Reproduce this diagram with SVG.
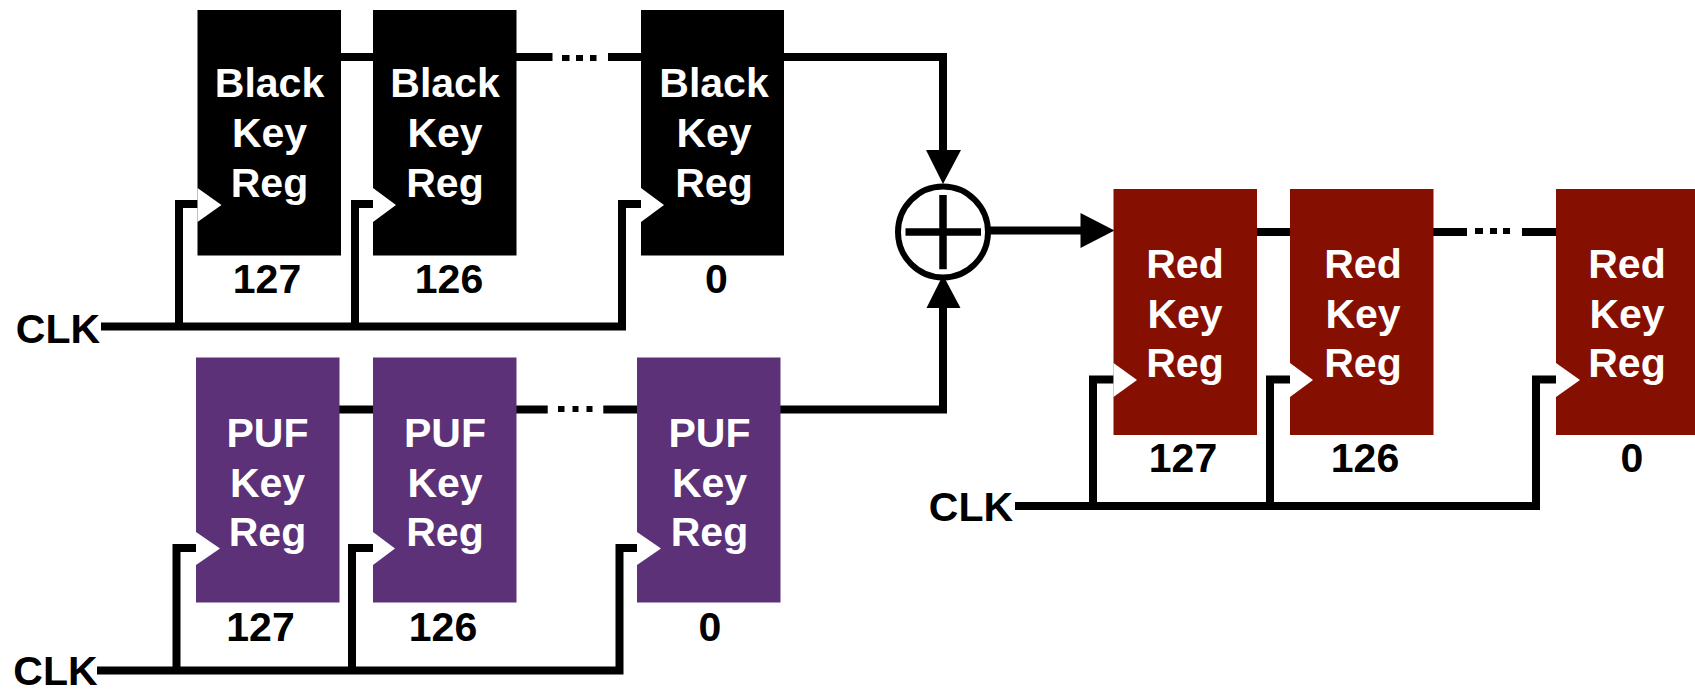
<svg xmlns="http://www.w3.org/2000/svg" width="1695" height="689" viewBox="0 0 1695 689">
<style>
text{font-family:"Liberation Sans",Arial,sans-serif;font-weight:700;font-size:41px;text-anchor:middle}
.w{fill:#fff}.k{fill:#000}
.black{fill:#000}.puf{fill:#5c3178}.red{fill:#851002}
.c{fill:none;stroke:#000;stroke-width:8}
.d{fill:none;stroke:#000;stroke-width:6}
.tri{fill:#fff}
</style>
<rect width="1695" height="689" fill="#fff"/>
<g id="connectors">
<path class="c" d="M341 57H373M516 57H552.500M608 57H641M784 57H943V152"/>
<path class="d" d="M562 58H569.500M576 58H583M590 58H596.500"/>
<path class="c" d="M101 326.500H622V204H642M179 326.500V204H199M355 326.500V204H375"/>
<path class="c" d="M339 409.500H373M516 409.500H547.700M603.300 409.500H637M780 409.500H943V306"/>
<path class="d" d="M558 409H564.500M572.500 409H578.500M586.500 409H592.500"/>
<path class="c" d="M97 670.500H619.500V548H639M176.500 670.500V548H197M352 670.500V548H373"/>
<path class="c" d="M1257 232H1290M1433 232H1467M1522 232H1556"/>
<path class="d" d="M1475 231H1483M1490 231H1497M1503 231H1510"/>
<path class="c" d="M1015 506H1536V379.500H1556M1093 506V379.500H1114M1270 506V379.500H1290"/>
<path class="c" d="M990 230.500H1082"/>
<path d="M926 150H961L943 184ZM926.500 308H960.500L943 275ZM1080.500 213L1114.500 230.500L1080.500 248Z"/>
</g>
<g id="xor">
<ellipse cx="943" cy="232" rx="45" ry="45.500" fill="none" stroke="#000" stroke-width="6"/>
<path d="M905.500 232H981M943 195V269.300" fill="none" stroke="#000" stroke-width="7.500"/>
</g>
<g id="black-127"><rect class="black" x="197.500" y="10" width="143.500" height="245.500"/><path class="tri" d="M197.500 188L221.500 205L197.500 222Z"/><text class="w" x="269.500" y="97">Black</text><text class="w" x="269.500" y="147">Key</text><text class="w" x="269.500" y="197">Reg</text><text class="k" x="267" y="293">127</text></g>
<g id="black-126"><rect class="black" x="373" y="10" width="143.500" height="245.500"/><path class="tri" d="M373 188L396 205L373 222Z"/><text class="w" x="445" y="97">Black</text><text class="w" x="445" y="147">Key</text><text class="w" x="445" y="197">Reg</text><text class="k" x="449" y="293">126</text></g>
<g id="black-0"><rect class="black" x="641" y="10" width="143" height="245.500"/><path class="tri" d="M641 188L664 205L641 222Z"/><text class="w" x="714" y="97">Black</text><text class="w" x="714" y="147">Key</text><text class="w" x="714" y="197">Reg</text><text class="k" x="716.500" y="293">0</text></g>
<g id="puf-127"><rect class="puf" x="196" y="357.500" width="143.500" height="245"/><path class="tri" d="M196 532L220 548.500L196 565Z"/><text class="w" x="267.500" y="447">PUF</text><text class="w" x="267.500" y="497">Key</text><text class="w" x="267.500" y="546">Reg</text><text class="k" x="260.500" y="641">127</text></g>
<g id="puf-126"><rect class="puf" x="373" y="357.500" width="143.500" height="245"/><path class="tri" d="M373 532L395 548.500L373 565Z"/><text class="w" x="445" y="447">PUF</text><text class="w" x="445" y="497">Key</text><text class="w" x="445" y="546">Reg</text><text class="k" x="443" y="641">126</text></g>
<g id="puf-0"><rect class="puf" x="637" y="357.500" width="143.500" height="245"/><path class="tri" d="M637 532L661 548.500L637 565Z"/><text class="w" x="709.500" y="447">PUF</text><text class="w" x="709.500" y="497">Key</text><text class="w" x="709.500" y="546">Reg</text><text class="k" x="710" y="641">0</text></g>
<g id="red-127"><rect class="red" x="1113.500" y="189" width="143.500" height="246"/><path class="tri" d="M1113.500 363L1137 380L1113.500 397Z"/><text class="w" x="1185" y="278">Red</text><text class="w" x="1185" y="328">Key</text><text class="w" x="1185" y="377">Reg</text><text class="k" x="1183" y="472">127</text></g>
<g id="red-126"><rect class="red" x="1290" y="189" width="143.500" height="246"/><path class="tri" d="M1290 363L1313 380L1290 397Z"/><text class="w" x="1363" y="278">Red</text><text class="w" x="1363" y="328">Key</text><text class="w" x="1363" y="377">Reg</text><text class="k" x="1365" y="472">126</text></g>
<g id="red-0"><rect class="red" x="1556" y="189" width="143.500" height="246"/><path class="tri" d="M1556 363L1580 380L1556 397Z"/><text class="w" x="1627" y="278">Red</text><text class="w" x="1627" y="328">Key</text><text class="w" x="1627" y="377">Reg</text><text class="k" x="1632" y="472">0</text></g>
<g id="clk-labels"><text class="k" x="58" y="343">CLK</text><text class="k" x="55.500" y="685">CLK</text><text class="k" x="971" y="521">CLK</text></g>
</svg>
